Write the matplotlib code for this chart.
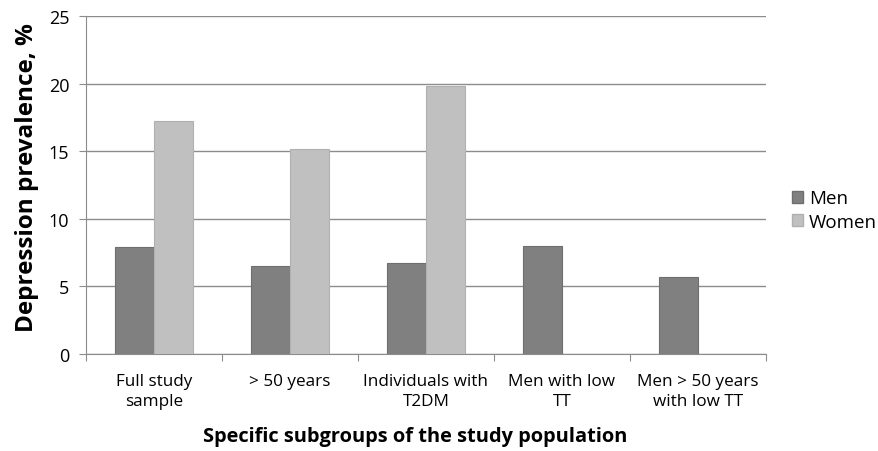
import matplotlib
matplotlib.use("Agg")
import matplotlib.pyplot as plt
import numpy as np
from matplotlib.patches import Patch

categories = ["Full study\nsample", "> 50 years", "Individuals with\nT2DM", "Men with low\nTT", "Men > 50 years\nwith low TT"]
men = [7.9, 6.5, 6.7, 8.0, 5.7]
women = [17.2, 15.15, 19.8, 0, 0]

plt.rcParams['font.family'] = ['Open Sans', 'DejaVu Sans']

fig = plt.figure(figsize=(8.79, 4.52), dpi=100)
ax = fig.add_axes([86/879, 1-355/452, (766-86)/879, (355-17)/452])

x = np.arange(len(categories))
w = 0.287
ax.bar(x - w/2, men, w, color='#808080', edgecolor='#6e6e6e', linewidth=0.8, zorder=3)
wx = [xi + w/2 for xi, v in zip(x, women) if v > 0]
wv = [v for v in women if v > 0]
ax.bar(wx, wv, w, color='#c0c0c0', edgecolor='#b0b0b0', linewidth=0.8, zorder=3)

ax.set_xlim(-0.5, len(categories) - 0.5)
ax.set_ylim(0, 25)
ax.set_yticks([0, 5, 10, 15, 20, 25])
ax.yaxis.grid(True, color='#8c8c8c', linewidth=1.0, zorder=0)
ax.set_axisbelow(True)
for s in ['top', 'right']:
    ax.spines[s].set_visible(False)
ax.spines['left'].set_color('#8c8c8c')
ax.spines['bottom'].set_color('#8c8c8c')

ax.set_xticks(np.arange(len(categories) + 1) - 0.5, minor=False)
ax.set_xticklabels([])
ax.set_xticks(x, minor=True)
ax.set_xticklabels(categories, minor=True, fontsize=12.3, linespacing=1.3)
ax.tick_params(axis='x', which='major', length=5, color='#8c8c8c')
ax.tick_params(axis='x', which='minor', length=0, pad=14)
ax.tick_params(axis='y', length=5, color='#8c8c8c', labelsize=13, pad=7)

fig.text(27/879, 1-178/452, "Depression prevalence, %", fontsize=17.5, fontweight='bold',
         rotation=90, ha='center', va='center')
fig.text(415/879, 1-437/452, "Specific subgroups of the study population", fontsize=14.4,
         fontweight='bold', ha='center', va='center')

handles = [Patch(facecolor='#808080', edgecolor='#6e6e6e'), Patch(facecolor='#c0c0c0', edgecolor='#b0b0b0')]
fig.legend(handles, ["Men", "Women"], loc='center left', bbox_to_anchor=(775/879, 1-211/452),
           frameon=False, fontsize=13.5, handlelength=0.6, handleheight=0.6, handletextpad=0.3, labelspacing=0.3)

fig.savefig("out.png", dpi=100)
